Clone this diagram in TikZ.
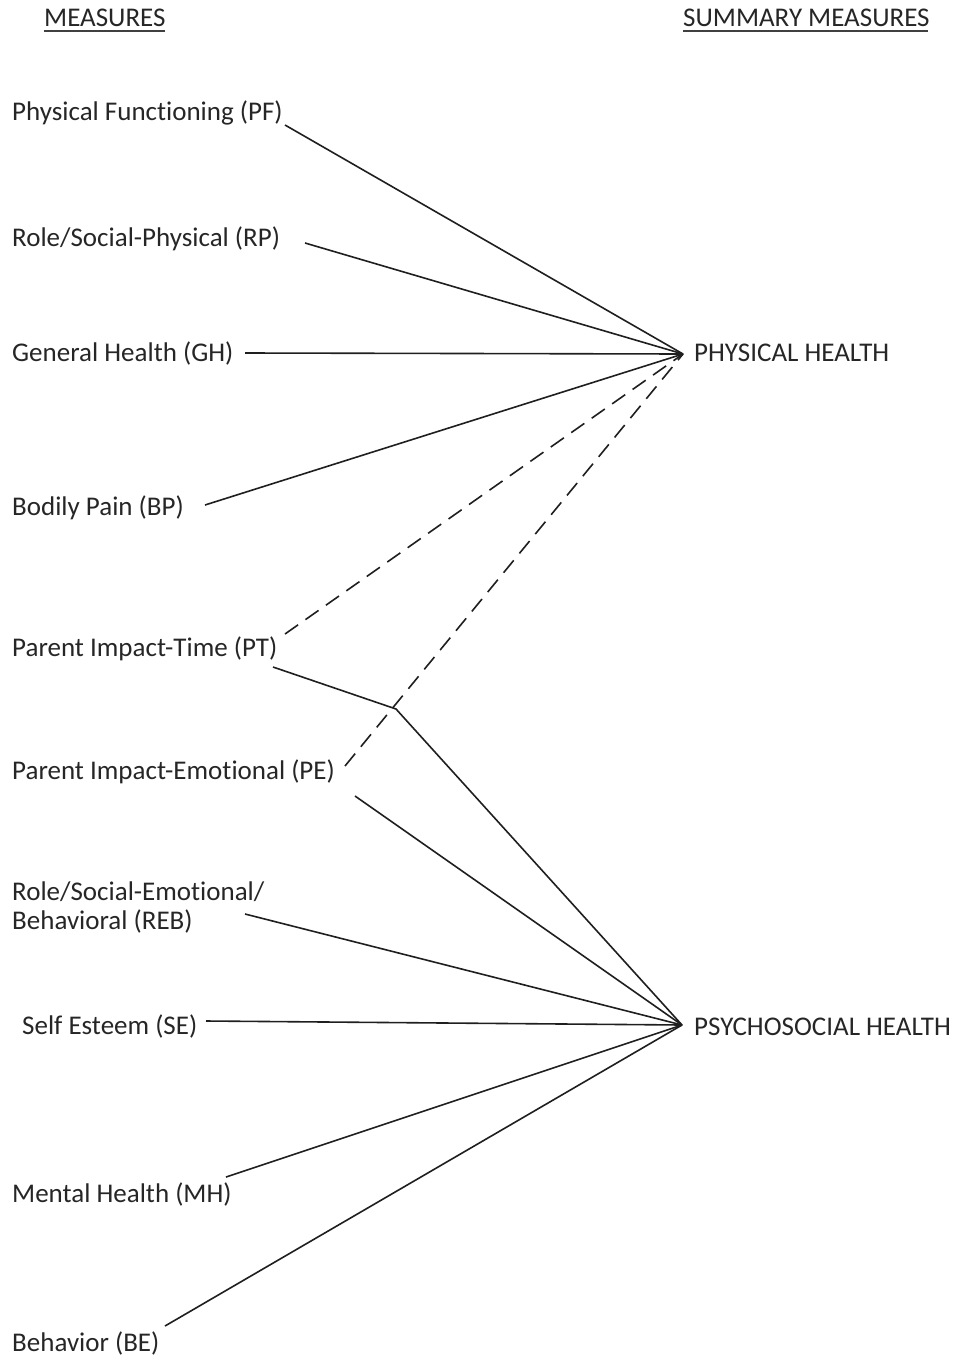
\documentclass[tikz,border=0pt]{standalone}
\usepackage{fontspec}
\setmainfont{Carlito}[Ligatures=NoCommon]
\begin{document}
\begin{tikzpicture}[x=1pt,y=-1pt,
  lbl/.style={anchor=base west,inner sep=0pt,text=black!85,font=\fontsize{27}{31}\selectfont,align=left},
  conn/.style={line width=1.6pt,black!88},
  dconn/.style={conn,dash pattern=on 16pt off 9pt},
  ul/.style={line width=1.8pt,black!75}]
\useasboundingbox (0,0) rectangle (956,1357);
% headers
\node[lbl] (hm) at (44,27) {MEASURES};
\node[lbl] (hs) at (683,27) {SUMMARY MEASURES};
\draw[ul] (hm.base west)++(0,4) -- ++(121,0);
\draw[ul] (hs.base west)++(0,4) -- ++(245,0);
% measures
\node[lbl] (pf) at (12,120) {Physical Functioning (PF)};
\node[lbl] (rp) at (12,246) {Role/Social-Physical (RP)};
\node[lbl] (gh) at (12,361) {General Health (GH)};
\node[lbl] (bp) at (12,515) {Bodily Pain (BP)};
\node[lbl] (pt) at (12,656) {Parent Impact-Time (PT)};
\node[lbl] (pe) at (12,779) {Parent Impact-Emotional (PE)};
\node[lbl,anchor=north west] (reb) at (12,882) {Role/Social-Emotional/\\[-2pt]Behavioral (REB)};
\node[lbl] (se) at (22,1034) {Self Esteem (SE)};
\node[lbl] (mh) at (12,1202) {Mental Health (MH)};
\node[lbl] (be) at (12,1351) {Behavior (BE)};
% summary
\node[lbl] (phy) at (694,361) {PHYSICAL HEALTH};
\node[lbl] (psy) at (694,1035) {PSYCHOSOCIAL HEALTH};
\coordinate (cph) at (683,354);
\coordinate (cps) at (682,1025);
% line starts
\coordinate (pfS) at (285,125);
\coordinate (rpS) at (305,243);
\coordinate (ghS) at (245,353);
\coordinate (bpS) at (205,505);
\coordinate (ptD) at (285,634);
\coordinate (ptS) at (273,667);
\coordinate (jn) at (396,709);
\coordinate (peD) at (345,766);
\coordinate (peS) at (355,796);
\coordinate (rebS) at (245,914);
\coordinate (seS) at (206,1021);
\coordinate (mhS) at (226,1177);
\coordinate (beS) at (165,1326);
% connectors to physical health
\draw[conn] (pfS) -- (cph);
\draw[conn] (rpS) -- (cph);
\draw[conn] (ghS) -- (cph);
\draw[conn] (bpS) -- (cph);
\draw[dconn] (ptD) -- (cph);
\draw[dconn] (peD) -- (cph);
% connectors to psychosocial health
\draw[conn] (ptS) -- (jn) -- (cps);
\draw[conn] (peS) -- (cps);
\draw[conn] (rebS) -- (cps);
\draw[conn] (seS) -- (cps);
\draw[conn] (mhS) -- (cps);
\draw[conn] (beS) -- (cps);
\end{tikzpicture}
\end{document}
